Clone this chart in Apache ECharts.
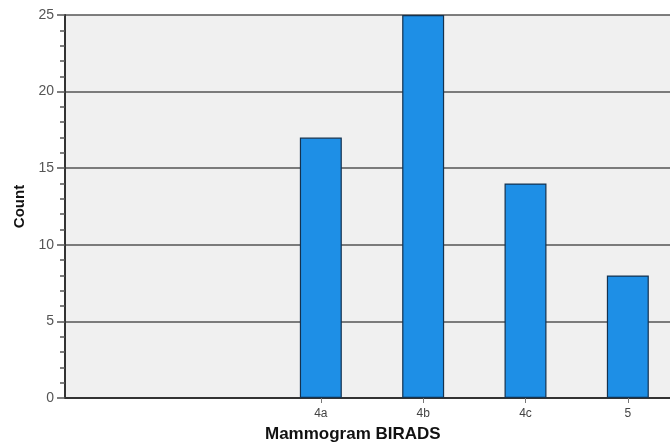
<!DOCTYPE html>
<html>
<head>
<meta charset="utf-8">
<script src="https://cdn.jsdelivr.net/npm/echarts@6/dist/echarts.min.js"></script>
<style>html,body{margin:0;padding:0;background:#fff}#c{width:670px;height:443px}</style>
</head>
<body>
<div id="c"></div>
<script>
var categories = ['', '', '4a', '4b', '4c', '5'];
var counts = [null, null, 17, 25, 14, 8];
var yTicks = [0, 5, 10, 15, 20, 25];

var chart = echarts.init(document.getElementById('c'), null, {renderer: 'canvas'});
chart.setOption({
  backgroundColor: '#ffffff',
  animation: false,
  grid: {left: 65, width: 614, top: 15, height: 383, outerBoundsMode: 'none', show: true, backgroundColor: '#f0f0f0', borderWidth: 0},
  xAxis: {
    type: 'category',
    data: categories,
    axisLine: {lineStyle: {color: '#333', width: 2}},
    axisTick: {show: true, alignWithLabel: true, length: 5, lineStyle: {color: '#777', width: 1},
      interval: function (i, v) { return v !== ''; }},
    axisLabel: {color: '#444', fontSize: 12, fontFamily: 'Liberation Sans', margin: 10, interval: 0},
    splitLine: {show: false}
  },
  yAxis: {
    type: 'value',
    min: yTicks[0],
    max: yTicks[yTicks.length - 1],
    interval: 5,
    name: 'Count',
    nameLocation: 'middle',
    nameGap: 36,
    nameTextStyle: {color: '#111', fontSize: 15, fontWeight: 'bold', fontFamily: 'Liberation Sans'},
    axisLine: {show: true, lineStyle: {color: '#333', width: 2}},
    axisTick: {show: true, length: 8, lineStyle: {color: '#555', width: 1.5}},
    minorTick: {show: true, splitNumber: 5, length: 5, lineStyle: {color: '#555', width: 1.5}},
    axisLabel: {color: '#555', fontSize: 14, fontFamily: 'Liberation Sans', margin: 11},
    splitLine: {show: true, lineStyle: {color: '#555', width: 1.5}}
  },
  title: {
    text: 'Mammogram BIRADS',
    left: 265,
    top: 426,
    padding: 0,
    textStyle: {color: '#111', fontSize: 17, fontWeight: 'bold', fontFamily: 'Liberation Sans'}
  },
  series: [{
    type: 'bar',
    data: counts,
    barWidth: '41%',
    itemStyle: {color: '#1E8FE6', borderColor: '#14324f', borderWidth: 1.2}
  }]
});
</script>
</body>
</html>
